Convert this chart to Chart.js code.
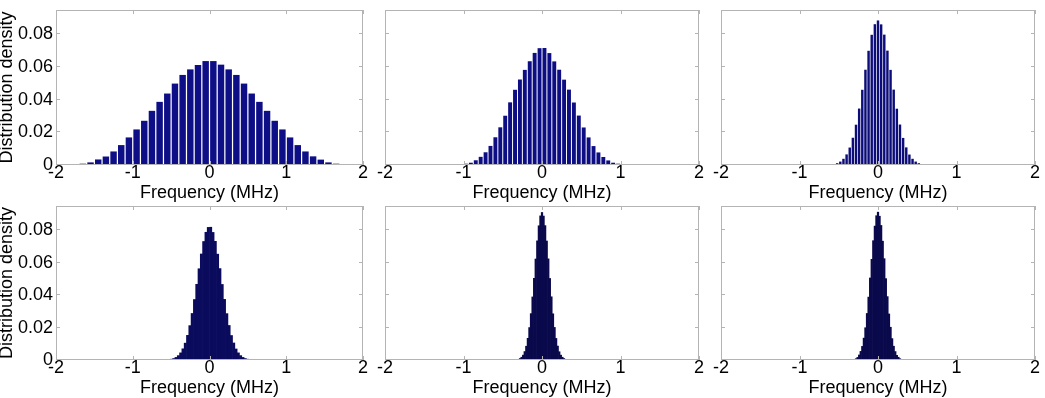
<!DOCTYPE html>
<html>
<head>
<meta charset="utf-8">
<script src="https://cdn.jsdelivr.net/npm/chart.js@4.4.0/dist/chart.umd.min.js"></script>
<style>
  body { margin: 0; background: #fff; }
  #wrap { position: relative; width: 1045px; height: 398px; overflow: hidden; }
  #wrap canvas { position: absolute; }
</style>
</head>
<body>
<div id="wrap"></div>
<script>
// axis ticks / titles
const xTicks = [-2, -1, 0, 1, 2];
const yTicks = [0, 0.02, 0.04, 0.06, 0.08];
const yTickLabels = ['0', '0.02', '0.04', '0.06', '0.08'];
const xTitle = 'Frequency (MHz)';
const yTitle = 'Distribution density';

// histogram bins: first edge and width (MHz), one per panel
const binStart = [-1.9, -1.1875, -0.66, -0.57, -0.33, -0.33];
const binWidth = [0.1, 0.0625, 0.04, 0.03, 0.02, 0.02];

// densities, left to right
const density1 = [0.0002, 0.0004, 0.0008, 0.0016, 0.0034, 0.0052, 0.0083, 0.0122, 0.0169, 0.0218,
                  0.0271, 0.0332, 0.0387, 0.0438, 0.0499, 0.0552, 0.0586, 0.0613, 0.0637,
                  0.0637, 0.0615, 0.0586, 0.0552, 0.0499, 0.0438, 0.0387, 0.0332, 0.0271, 0.0218,
                  0.0169, 0.0122, 0.0083, 0.0053, 0.0033, 0.0016, 0.0008, 0.0004, 0.0002];
const density2 = [0.0001, 0.0002, 0.0004, 0.0008, 0.0014, 0.0029, 0.0050, 0.0078, 0.0117, 0.0170,
                  0.0231, 0.0302, 0.0384, 0.0461, 0.0524, 0.0583, 0.0636, 0.0687, 0.0716,
                  0.0717, 0.0686, 0.0635, 0.0584, 0.0523, 0.0462, 0.0383, 0.0303, 0.0230, 0.0169,
                  0.0116, 0.0077, 0.0049, 0.0028, 0.0014, 0.0008, 0.0004, 0.0002, 0.0001];
const density3 = [0.0001, 0.0002, 0.0005, 0.0011, 0.0021, 0.0038, 0.0065, 0.0107, 0.0167, 0.0247,
                  0.0346, 0.0461, 0.0584, 0.0700, 0.0798, 0.0863,
                  0.0886,
                  0.0862, 0.0799, 0.0701, 0.0583, 0.0462, 0.0345, 0.0248, 0.0166, 0.0108, 0.0064,
                  0.0038, 0.0021, 0.0011, 0.0005, 0.0002, 0.0001];
const density4 = [0.0001, 0.0003, 0.0005, 0.0009, 0.0016, 0.0027, 0.0044, 0.0069, 0.0104, 0.0152,
                  0.0212, 0.0287, 0.0373, 0.0467, 0.0563, 0.0654, 0.0731, 0.0788, 0.0818,
                  0.0819, 0.0787, 0.0732, 0.0653, 0.0564, 0.0466, 0.0374, 0.0286, 0.0213, 0.0151,
                  0.0105, 0.0068, 0.0044, 0.0027, 0.0016, 0.0009, 0.0005, 0.0003, 0.0001];
const density5 = [0.0002, 0.0004, 0.0009, 0.0017, 0.0030, 0.0052, 0.0085, 0.0134, 0.0200, 0.0286,
                  0.0389, 0.0504, 0.0623, 0.0735, 0.0828, 0.0889,
                  0.0910,
                  0.0888, 0.0829, 0.0734, 0.0624, 0.0503, 0.0390, 0.0285, 0.0201, 0.0133, 0.0086,
                  0.0051, 0.0030, 0.0017, 0.0009, 0.0004, 0.0002];
const density6 = [0.0002, 0.0004, 0.0008, 0.0016, 0.0031, 0.0053, 0.0084, 0.0135, 0.0199, 0.0287,
                  0.0388, 0.0506, 0.0621, 0.0736, 0.0826, 0.0890,
                  0.0912,
                  0.0887, 0.0830, 0.0733, 0.0625, 0.0502, 0.0391, 0.0284, 0.0202, 0.0132, 0.0085,
                  0.0052, 0.0029, 0.0017, 0.0008, 0.0004, 0.0002];
const densities = [density1, density2, density3, density4, density5, density6];

// panel boxes (plot area in page pixels)
const panels = [
  { left: 56,  top: 10,  w: 307, h: 155, lw: 56, color: '#0e0e86', bp: 0.84, yLabels: true },
  { left: 385, top: 10,  w: 314, h: 155, lw: 20, color: '#0e0e84', bp: 0.80, yLabels: false },
  { left: 721, top: 10,  w: 314, h: 155, lw: 20, color: '#0d0d7a', bp: 0.78, yLabels: false },
  { left: 56,  top: 206, w: 307, h: 154, lw: 56, color: '#0b0b5e', bp: 1.0,  yLabels: true },
  { left: 385, top: 206, w: 314, h: 154, lw: 20, color: '#09094c', bp: 1.0,  yLabels: false },
  { left: 721, top: 206, w: 314, h: 154, lw: 20, color: '#09094c', bp: 1.0,  yLabels: false }
];
const padTop = 12, padRight = 8, xAxisH = 37;

function hasFont(name) {
  const c = document.createElement('canvas').getContext('2d');
  c.font = '40px monospace';
  const a = c.measureText('0.08 Frequency').width;
  c.font = "40px '" + name + "', monospace";
  return c.measureText('0.08 Frequency').width !== a;
}
const tickFont = hasFont('Liberation Sans Narrow')
  ? { family: "'Liberation Sans Narrow'", size: 21, lineHeight: 1 }
  : { family: "'Liberation Sans', Arial", size: 18, lineHeight: 1 };
const titleFont = { family: "'Liberation Sans', Arial", size: 18, lineHeight: 1 };

// grey box with inward tick marks, like the matlab axes
const framePlugin = {
  id: 'frame',
  afterDatasetsDraw(chart) {
    const { ctx, chartArea: a, scales: { x, y } } = chart;
    ctx.save();
    ctx.strokeStyle = '#b4b4b4';
    ctx.lineWidth = 1;
    ctx.beginPath();
    xTicks.forEach(v => {
      const px = Math.round(x.getPixelForValue(v)) + 0.5;
      ctx.moveTo(px, a.bottom); ctx.lineTo(px, a.bottom - 4);
      ctx.moveTo(px, a.top); ctx.lineTo(px, a.top + 4);
    });
    yTicks.forEach(v => {
      const py = Math.round(y.getPixelForValue(v)) - 0.5;
      ctx.moveTo(a.left, py); ctx.lineTo(a.left + 4, py);
      ctx.moveTo(a.right, py); ctx.lineTo(a.right - 4, py);
    });
    ctx.stroke();
    ctx.strokeRect(a.left + 0.5, a.top + 0.5, a.width - 1, a.height - 1);
    ctx.restore();
  }
};

const wrap = document.getElementById('wrap');
panels.forEach((p, k) => {
  const cv = document.createElement('canvas');
  cv.width = p.lw + p.w + padRight;
  cv.height = padTop + p.h + xAxisH;
  cv.style.left = (p.left - p.lw) + 'px';
  cv.style.top = (p.top - padTop) + 'px';
  wrap.appendChild(cv);

  const d = densities[k];
  const points = d.map((v, i) => ({ x: binStart[k] + (i + 0.5) * binWidth[k], y: v }));

  new Chart(cv.getContext('2d'), {
    type: 'bar',
    data: {
      datasets: [{
        data: points,
        backgroundColor: p.color,
        borderWidth: 0,
        barPercentage: p.bp,
        categoryPercentage: 1
      }]
    },
    options: {
      responsive: false,
      animation: false,
      devicePixelRatio: 1,
      layout: { padding: { top: padTop, right: padRight, left: 0, bottom: 0 } },
      plugins: { legend: { display: false }, tooltip: { enabled: false } },
      scales: {
        x: {
          type: 'linear', min: -2, max: 2, offset: false,
          grid: { display: false, drawTicks: false },
          border: { display: false },
          ticks: { stepSize: 1, autoSkip: false, maxRotation: 0, padding: -1, color: '#000',
                   font: tickFont, callback: v => String(v) },
          title: { display: true, text: xTitle, color: '#000', font: titleFont, padding: 0 },
          afterFit: s => { s.height = xAxisH; }
        },
        y: {
          min: 0, max: 0.095,
          grid: { display: false, drawTicks: false },
          border: { display: false },
          ticks: { display: p.yLabels, stepSize: 0.02, includeBounds: false, padding: 3, color: '#000',
                   font: tickFont,
                   callback: v => {
                     const i = yTicks.findIndex(t => Math.abs(t - v) < 1e-9);
                     return i >= 0 ? yTickLabels[i] : '';
                   } },
          title: { display: p.yLabels, text: yTitle, color: '#000', font: titleFont, padding: { top: -2 } },
          afterFit: s => { s.width = p.lw; }
        }
      }
    },
    plugins: [framePlugin]
  });
});
</script>
</body>
</html>
